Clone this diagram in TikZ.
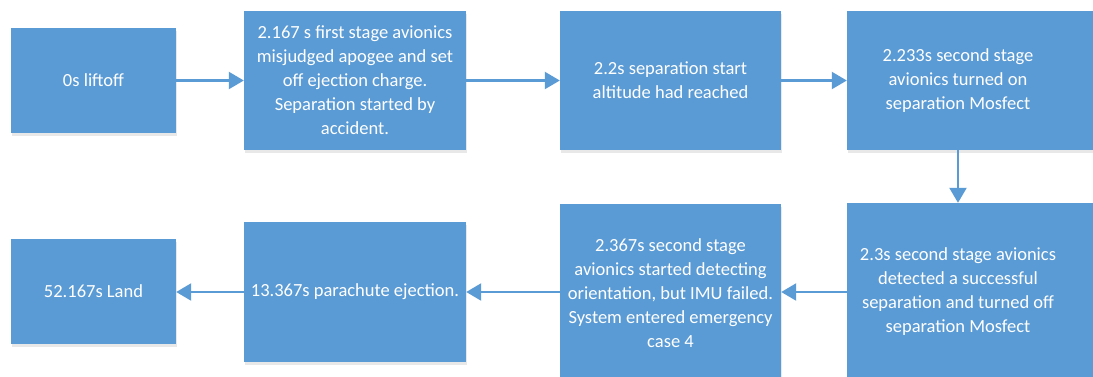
\documentclass[tikz,border=0pt]{standalone}
\usepackage{fontspec}
\setmainfont{Carlito}
\usetikzlibrary{arrows.meta,shadows}
\definecolor{boxblue}{HTML}{5B9BD5}
\tikzset{
  box/.style={fill=boxblue, draw=none, text=white, align=center,
    font=\fontsize{18.5}{24}\selectfont, inner sep=0pt,
    drop shadow={opacity=0.18, shadow xshift=1pt, shadow yshift=-3pt}},
  conn/.style={draw=boxblue, line width=2.2pt, -{Triangle[length=15pt,width=17pt]}}
}
\newcommand{\leftblock}[1]{\begin{tabular}{@{}c@{}}#1\end{tabular}\hspace*{31pt}}
\begin{document}
\begin{tikzpicture}[x=1pt,y=-1pt]
\useasboundingbox (0,0) rectangle (1093,376);
\clip (0,0) rectangle (1093,376);
\fill[white] (0,0) rectangle (1093,376);
\node[box, minimum width=165pt, minimum height=105pt] (b1) at (93.5,80.5) {0s liftoff};
\node[box, minimum width=222pt, minimum height=139pt] (b2) at (355,80.5) {2.167 s first stage avionics\\misjudged apogee and set\\off ejection charge.\\Separation started by\\accident.};
\node[box, minimum width=221pt, minimum height=139pt] (b3) at (670.5,80.5) {2.2s separation start\\altitude had reached};
\node[box, minimum width=253pt, minimum height=139pt] (b4) at (973.5,80.5) {\leftblock{2.233s second stage\\avionics turned on\\separation Mosfect}};
\node[box, minimum width=253pt, minimum height=178pt] (b5) at (973.5,292) {\leftblock{2.3s second stage avionics\\detected a successful\\separation and turned off\\separation Mosfect}};
\node[box, minimum width=221pt, minimum height=178pt] (b6) at (670.5,293) {2.367s second stage\\avionics started detecting\\orientation, but IMU failed.\\System entered emergency\\case 4};
\node[box, minimum width=222pt, minimum height=140pt] (b7) at (355,292) {13.367s parachute ejection.};
\node[box, minimum width=165pt, minimum height=105pt] (b8) at (93.5,291.5) {52.167s Land};
\draw[conn] (b1.east) -- (b2.west);
\draw[conn] (b2.east) -- (b3.west);
\draw[conn] (b3.east) -- (b4.west);
\draw[conn] ([xshift=-15.5pt]b4.south) -- ([xshift=-15.5pt]b5.north);
\draw[conn] (b5.west) -- (b5.west -| b6.east);
\draw[conn] (b6.west |- b7.east) -- (b7.east);
\draw[conn] (b7.west) -- (b7.west -| b8.east);
\end{tikzpicture}
\end{document}
